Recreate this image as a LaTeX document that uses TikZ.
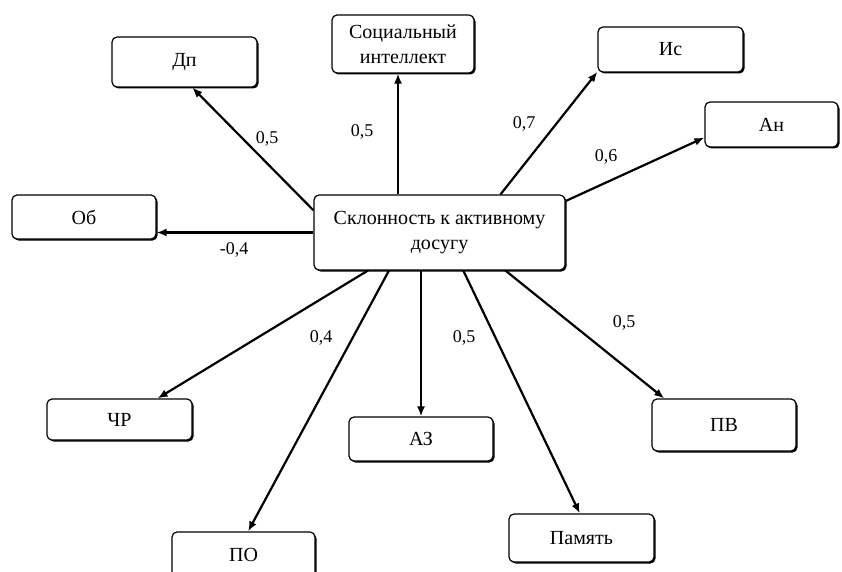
\documentclass[tikz,border=0pt]{standalone}
\usepackage{fontspec}
\setmainfont{Liberation Serif}
\usetikzlibrary{arrows.meta, shadows}

\begin{document}
\begin{tikzpicture}[x=1pt, y=-1pt,
    box/.style={draw, rectangle, rounded corners=5pt, fill=white, line width=1.2pt,
      drop shadow={shadow xshift=1.5pt, shadow yshift=-1.5pt, fill=black, opacity=1},
      font=\fontsize{20}{25}\selectfont, align=center, inner sep=2pt},
    link/.style={line width=2.2pt, -{Latex[length=10pt,width=8pt]}},
    weight/.style={font=\fontsize{18}{20}\selectfont, inner sep=0pt}]
    \clip (0,0) rectangle (842,572);

    % Central factor
    \node[box, minimum width=251pt, minimum height=75pt] (ctr) at (439.5,232.5) {Склонность к активному\\досугу};

    % Upper factors
    \node[box, minimum width=145pt, minimum height=50pt] (dp) at (184.5,62) {Дп};
    \node[box, minimum width=142pt, minimum height=58pt] (soc) at (403,44) {Социальный\\интеллект};
    \node[box, minimum width=145pt, minimum height=45pt] (is) at (670.5,49.5) {Ис};
    \node[box, minimum width=133pt, minimum height=45pt] (an) at (771.5,124.5) {Ан};
    \node[box, minimum width=144pt, minimum height=44pt] (ob) at (84,217) {Об};

    % Lower factors
    \node[box, minimum width=145pt, minimum height=41pt] (chr) at (119.5,419.5) {ЧР};
    \node[box, minimum width=143pt, minimum height=46pt] (po) at (243.5,555) {ПО};
    \node[box, minimum width=144pt, minimum height=44pt] (az) at (421,439) {АЗ};
    \node[box, minimum width=145pt, minimum height=48pt] (pam) at (581.5,538) {Память};
    \node[box, minimum width=144pt, minimum height=52pt] (pv) at (724,425) {ПВ};

    % Links
    \draw[link] (ctr.170) -- (dp.287);
    \draw[link] ([xshift=-5pt]soc.south |- ctr.north) -- ([xshift=-5pt]soc.south);
    \draw[link] (ctr.32) -- (is.197);
    \draw[link] (ctr.14) -- (an.191);
    \draw[link] (ctr.west) -- (ctr.west -| ob.east);
    \draw[link] (ctr.208) -- (chr.29);
    \draw[link] (ctr.217) -- (po.79);
    \draw[link] (az.north |- ctr.south) -- (az.north);
    \draw[link] (ctr.302) -- (pam.94);
    \draw[link] (ctr.330) -- (pv.156);

    % Weights
    \node[weight] (w1) at (267,139) {0,5};
    \node[weight] (w2) at (362,132) {0,5};
    \node[weight] (w3) at (524,124) {0,7};
    \node[weight] (w4) at (606,157) {0,6};
    \node[weight] (w5) at (234,250) {-0,4};
    \node[weight] (w6) at (321,338) {0,4};
    \node[weight] (w7) at (464,338) {0,5};
    \node[weight] (w8) at (624,323) {0,5};
\end{tikzpicture}
\end{document}
